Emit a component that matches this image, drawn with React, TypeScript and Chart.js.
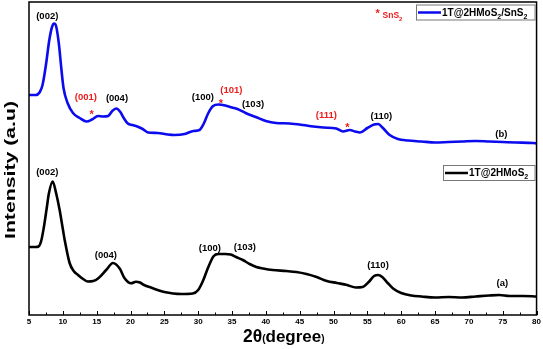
import { useEffect, useRef } from 'react';
import { Chart, registerables } from 'chart.js';

Chart.register(...registerables);

// Curve (a): 1T@2HMoS2
const thetaA = [5, 6, 6.4, 6.8, 7.2, 7.6, 7.95, 8.5, 9, 9.5, 10, 10.3, 11, 11.6, 12.25, 13, 13.7, 14.5, 15.2, 16.4, 17.4, 18.4, 19.1, 20.1, 20.8, 21.4, 22, 23.2, 24, 25, 26.3, 27.5, 29.2, 30, 30.7, 31.5, 32.3, 33, 34, 34.8, 35.6, 36.6, 37.6, 38.6, 39.6, 41, 43, 44.5, 46, 47.5, 49, 50.5, 52, 53.3, 54.3, 55.2, 56, 56.6, 57.2, 58, 58.8, 60, 61.5, 63, 65, 67, 69, 71, 73, 74.5, 76, 78, 80];
const intensityA = [68, 68, 68.5, 74, 88, 106, 122, 133.5, 122, 106, 86, 74, 52, 44, 40, 36, 33.5, 34, 36.5, 45, 52, 46.5, 37, 31.7, 33.3, 32.5, 30, 27, 25, 23, 21.5, 21, 21.5, 25, 34, 48, 59, 61, 61, 60.5, 58, 55, 51, 48, 46.5, 45, 44, 43, 41, 38, 34, 32, 30, 27.5, 28, 33, 39, 40, 38, 32, 26.5, 22, 19.5, 18.5, 17.5, 18, 17.5, 18.5, 19.5, 20, 19, 19, 18.5];

// Curve (b): 1T@2HMoS2/SnS2
const thetaB = [5, 6, 6.6, 7, 7.5, 8, 8.4, 8.7, 9, 9.4, 9.8, 10.1, 10.7, 11.5, 12.5, 13.5, 14.3, 15.2, 16, 16.7, 17.3, 17.9, 18.5, 19, 19.6, 20.3, 21, 21.8, 22.6, 24, 25.5, 26.5, 28, 29.3, 30.2, 30.8, 31.5, 32.2, 33, 34, 35, 35.8, 37, 38.5, 40, 41.5, 43.5, 45.5, 47, 48.5, 50.4, 51.4, 52.4, 53.2, 53.9, 55, 56, 56.6, 57.3, 58.3, 59.5, 61, 63, 65, 67, 69, 71, 73, 75, 77, 79.5, 80];
const intensityB = [220, 220, 223, 230, 250, 275, 288, 291.5, 289, 272, 245, 227, 212, 202, 197, 193.5, 195.5, 199, 198.5, 199, 204, 206.5, 203, 197, 191.5, 190, 188.5, 186, 182.5, 182, 180.5, 180, 181, 184, 185, 191, 202, 209, 210.5, 209.5, 207.5, 206, 202, 198, 194, 192, 191.5, 190, 188.5, 187.5, 186.5, 183.5, 185, 183.5, 182.5, 187, 190.5, 191, 187, 180, 176, 174.5, 173.5, 172.5, 173, 173.5, 174, 173.5, 173, 172.5, 172, 171.5];

// Peak labels (text, 2θ position, intensity position, SnS2 phase?)
const peakText = ['(002)', '(001)', '(004)', '(100)', '(101)', '(103)', '(111)', '(110)', '(b)', '(002)', '(004)', '(100)', '(103)', '(110)', '(a)'];
const peakTheta = [7.7, 13.4, 18.0, 30.7, 34.9, 38.1, 48.95, 57.07, 74.8, 7.7, 16.37, 31.72, 36.9, 56.57, 74.94];
const peakIntensity = [299, 218, 216.5, 217.5, 224.5, 210.5, 200, 198.5, 181, 142.5, 60, 66.5, 67.5, 50, 31.5];
const peakIsSnS2 = [false, true, false, false, true, false, true, false, false, false, false, false, false, false, false];

// SnS2 star markers
const starTheta = [14.25, 33.35, 52.05];
const starIntensity = [204, 215, 190.5];

const xTickValues = [5, 10, 15, 20, 25, 30, 35, 40, 45, 50, 55, 60, 65, 70, 75, 80];

const BLUE = '#0b0bee';
const RED = '#ee1c1c';
const FONT = '"Liberation Sans", Arial, sans-serif';

function drawSub(ctx: CanvasRenderingContext2D, x: number, y: number, parts: [string, boolean][], size: number) {
  let cx = x;
  for (const [t, sub] of parts) {
    ctx.font = `bold ${sub ? size * 0.7 : size}px ${FONT}`;
    ctx.fillText(t, cx, sub ? y + size * 0.3 : y);
    cx += ctx.measureText(t).width;
  }
  return cx - x;
}

const decorPlugin = {
  id: 'decor',
  afterDraw(chart: any) {
    const ctx: CanvasRenderingContext2D = chart.ctx;
    const { left, right, top, bottom } = chart.chartArea;
    const xs = chart.scales.x;
    const ys = chart.scales.y;
    ctx.save();
    // frame
    ctx.strokeStyle = '#000';
    ctx.lineWidth = 1.5;
    ctx.strokeRect(left, top, right - left, bottom - top);
    // inward ticks
    ctx.lineWidth = 1;
    for (let v = 5; v <= 80; v += 2.5) {
      const px = Math.round(xs.getPixelForValue(v)) + 0.5;
      const major = Math.abs(v % 5) < 1e-6;
      ctx.beginPath();
      ctx.moveTo(px, bottom);
      ctx.lineTo(px, bottom - (major ? 4 : 2.5));
      ctx.stroke();
    }
    // peak labels
    ctx.textAlign = 'center';
    ctx.textBaseline = 'middle';
    ctx.font = `bold 9.5px ${FONT}`;
    for (let i = 0; i < peakText.length; i++) {
      ctx.fillStyle = peakIsSnS2[i] ? RED : '#000';
      ctx.fillText(peakText[i], xs.getPixelForValue(peakTheta[i]), ys.getPixelForValue(peakIntensity[i]));
    }
    // stars
    ctx.fillStyle = RED;
    ctx.textBaseline = 'alphabetic';
    ctx.font = `bold 11px ${FONT}`;
    for (let i = 0; i < starTheta.length; i++) {
      ctx.fillText('*', xs.getPixelForValue(starTheta[i]), ys.getPixelForValue(starIntensity[i]) + 6.5);
    }
    // "*SnS2" key
    const kx = xs.getPixelForValue(56.5);
    const ky = ys.getPixelForValue(305);
    ctx.textAlign = 'center';
    ctx.font = `bold 11px ${FONT}`;
    ctx.fillText('*', kx, ky + 6.5);
    ctx.textAlign = 'left';
    drawSub(ctx, kx + 5, ky + 8, [['SnS', false], ['2', true]], 8.5);

    // legends
    const legend = (label: [string, boolean][], color: string, yTop: number, boxLeft: number) => {
      const boxRight = right - 2;
      const h = 15;
      ctx.fillStyle = '#fff';
      ctx.fillRect(boxLeft, yTop, boxRight - boxLeft, h);
      ctx.strokeStyle = '#777';
      ctx.lineWidth = 1;
      ctx.strokeRect(boxLeft + 0.5, yTop + 0.5, boxRight - boxLeft, h);
      ctx.strokeStyle = color;
      ctx.lineWidth = 2.5;
      ctx.beginPath();
      ctx.moveTo(boxLeft + 2, yTop + h / 2 + 0.5);
      ctx.lineTo(boxLeft + 25, yTop + h / 2 + 0.5);
      ctx.stroke();
      ctx.fillStyle = '#000';
      ctx.textBaseline = 'alphabetic';
      ctx.textAlign = 'left';
      drawSub(ctx, boxLeft + 26, yTop + 11, label, 10);
    };
    const labB: [string, boolean][] = [['1T@2HMoS', false], ['2', true], ['/SnS', false], ['2', true]];
    const labA: [string, boolean][] = [['1T@2HMoS', false], ['2', true]];
    legend(labB, BLUE, top + 2.5, 416);
    legend(labA, '#000', ys.getPixelForValue(150), 443);

    // x axis title: 2θ(degree)
    const parts: [string, number][] = [['2θ', 17.5], ['(', 10], ['degree', 17], [')', 10]];
    let total = 0;
    for (const [t, s] of parts) { ctx.font = `bold ${s}px ${FONT}`; total += ctx.measureText(t).width; }
    let tx = (left + right) / 2 - total / 2 + 1;
    ctx.fillStyle = '#000';
    for (const [t, s] of parts) {
      ctx.font = `bold ${s}px ${FONT}`;
      ctx.fillText(t, tx, 342);
      tx += ctx.measureText(t).width;
    }

    // y axis title: Intensity (a.u)
    ctx.save();
    ctx.translate(14.7, 170);
    ctx.rotate(-Math.PI / 2);
    ctx.font = `bold 15px ${FONT}`;
    const tw = ctx.measureText('Intensity (a.u)').width;
    ctx.scale(138 / tw, 1);
    ctx.textAlign = 'center';
    ctx.textBaseline = 'alphabetic';
    ctx.fillText('Intensity (a.u)', 0, 0);
    ctx.restore();

    ctx.restore();
  },
};

export default function App() {
  const ref = useRef<HTMLCanvasElement>(null);
  useEffect(() => {
    if (!ref.current) return;
    const chart = new Chart(ref.current, {
      type: 'line',
      data: {
        datasets: [
          {
            label: '1T@2HMoS2/SnS2',
            data: thetaB.map((t, i) => ({ x: t, y: intensityB[i] })),
            borderColor: BLUE,
            borderWidth: 2.6,
            pointRadius: 0,
            cubicInterpolationMode: 'monotone',
          },
          {
            label: '1T@2HMoS2',
            data: thetaA.map((t, i) => ({ x: t, y: intensityA[i] })),
            borderColor: '#000',
            borderWidth: 2.6,
            pointRadius: 0,
            cubicInterpolationMode: 'monotone',
          },
        ],
      },
      options: {
        animation: false,
        responsive: true,
        maintainAspectRatio: false,
        layout: { padding: { top: 2, right: 6, left: 0, bottom: 0 } },
        plugins: { legend: { display: false }, tooltip: { enabled: false } },
        scales: {
          x: {
            type: 'linear',
            min: 5,
            max: 80,
            afterFit: (s: any) => { s.height = 34; },
            afterBuildTicks: (s: any) => { s.ticks = xTickValues.map((v) => ({ value: v })); },
            ticks: { color: '#000', padding: 2, maxRotation: 0, autoSkip: false, font: { family: FONT, size: 8, weight: 'bold' } },
            grid: { display: false, drawTicks: false, tickLength: 0 },
            border: { display: false },
          },
          y: {
            type: 'linear',
            min: 0,
            max: 313,
            afterFit: (s: any) => { s.width = 29; },
            ticks: { display: false },
            grid: { display: false, drawTicks: false },
            border: { display: false },
            title: { display: false },
          },
        },
      },
      plugins: [decorPlugin],
    } as any);
    return () => chart.destroy();
  }, []);
  return (
    <div style={{ position: 'fixed', left: 0, top: 0, width: 543, height: 349 }}>
      <canvas ref={ref} />
    </div>
  );
}
